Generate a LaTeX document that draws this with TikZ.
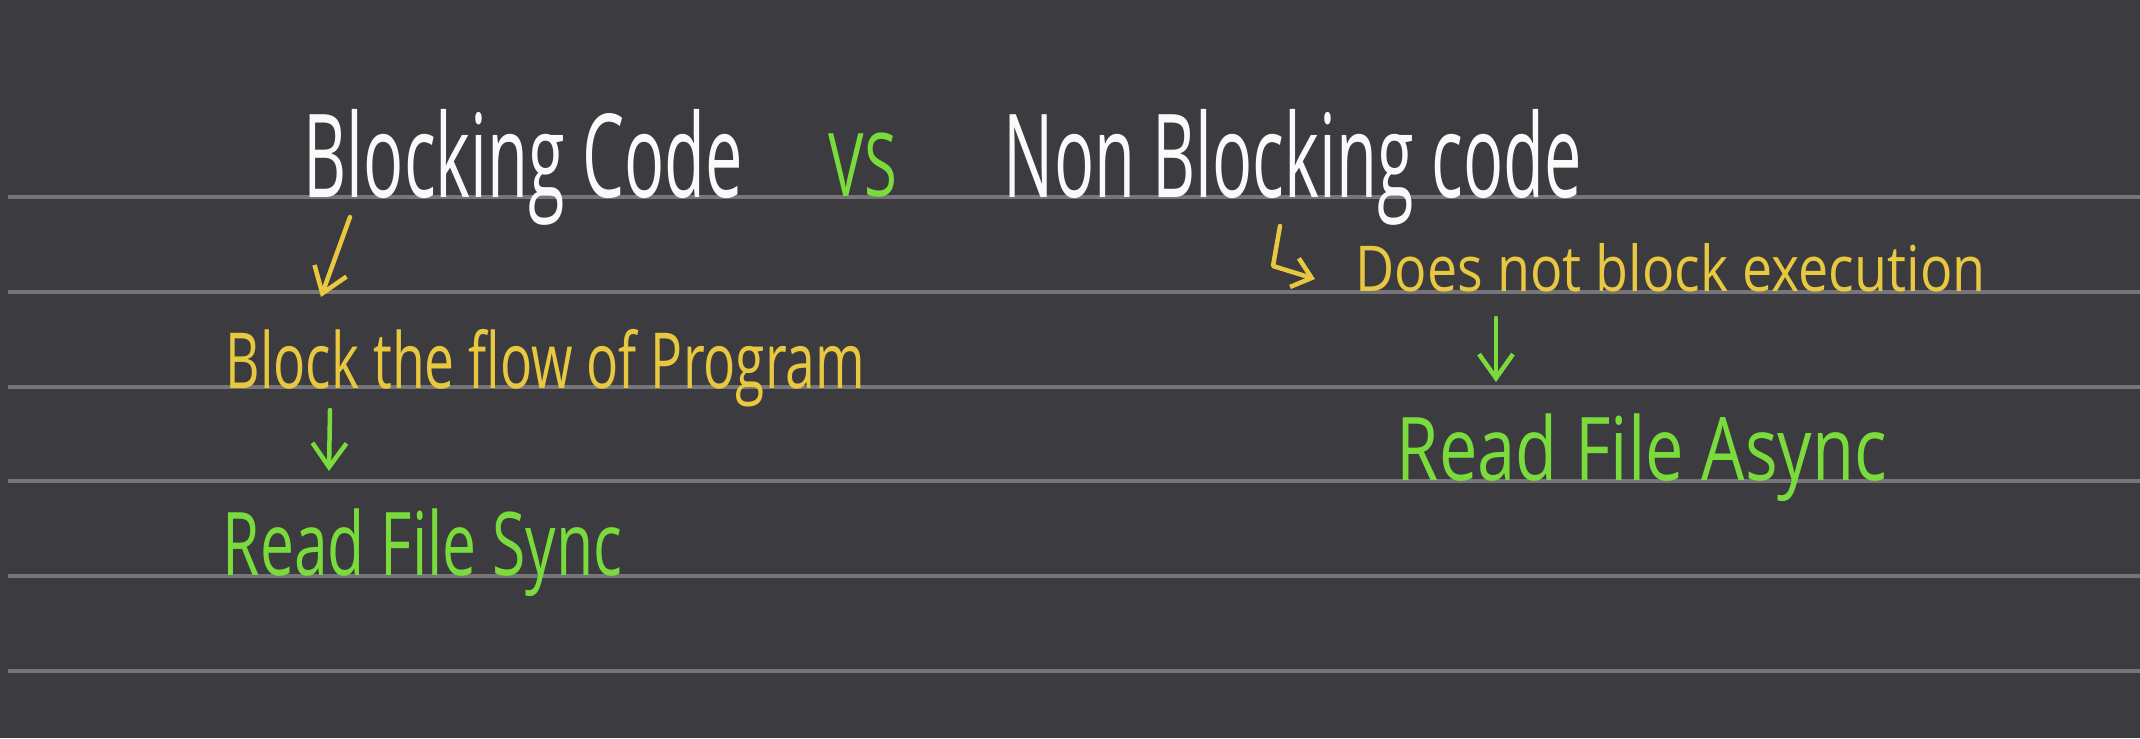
\documentclass[tikz,border=0pt]{standalone}
\usepackage{fontspec}
\usetikzlibrary{arrows.meta,positioning}
\newfontfamily\handfont{Open Sans}
% size and horizontal squeeze of the hand-written lettering
\newcommand\handsize[2]{\handfont\addfontfeature{FakeStretch=#2}\fontsize{#1}{#1}\selectfont}
\definecolor{boardbg}{RGB}{60,59,63}
\definecolor{ruleline}{RGB}{118,117,121}
\definecolor{chalkwhite}{RGB}{250,250,250}
\definecolor{chalkyellow}{RGB}{232,200,64}
\definecolor{chalkgreen}{RGB}{122,220,60}
\tikzset{
  hand/.style={anchor=base west, inner sep=0pt},
  title/.style={hand, text=chalkwhite, font=\handsize{33}{0.575}},
  versus/.style={hand, text=chalkgreen, font=\handsize{25}{0.68}},
  remark/.style={hand, text=chalkyellow, font=\handsize{22}{0.69}},
  smallremark/.style={hand, text=chalkyellow, font=\handsize{18}{0.85}},
  apicall/.style={hand, text=chalkgreen, font=\handsize{25}{0.69}},
  apicallwide/.style={apicall, font=\handsize{25}{0.78}},
  flow/.style={-{Straight Barb[length=2.4mm,width=3.4mm]}, line width=0.45mm,
               line cap=round, line join=round},
  yflow/.style={flow, chalkyellow},
  gflow/.style={flow, chalkgreen},
  hookflow/.style={yflow, -{Straight Barb[length=1.8mm,width=3mm]}},
  rule/.style={ruleline, line width=0.35mm}
}
\begin{document}
\begin{tikzpicture}[x=0.1mm, y=-0.1mm]
% board
\fill[boardbg] (0,0) rectangle (2140,738);
\useasboundingbox (0,0) rectangle (2140,738);
\foreach \ry in {197,292,387,481,576,671}
  \draw[rule] (8,\ry) -- (2140,\ry);

% left column
\node[title]  (blocking) at (303,197) {Blocking Code};
\node[versus] (vs)       at (828,196) {VS};
\node[remark] (blockflow) at (225,388) {Block the flow of Program};
\node[apicall] (readsync) at (222,575) {Read File Sync};

% right column
\node[title]  (nonblocking) at (1003,197) {Non Blocking code};
\node[smallremark] (noblock) at (1355,291) {Does not block execution};
\node[apicallwide] (readasync) at (1396,480) {Read File Async};

% arrows
\coordinate (a1s) at (350,217);
\coordinate (a1e) at (321,297);
\coordinate (a2s) at (330,410);
\coordinate (a2e) at (329,471);
\coordinate (h1s) at (1280,226);
\coordinate (h1m) at (1273,266);
\coordinate (h1e) at (1315,279);
\coordinate (a3s) at (1496,318);
\coordinate (a3e) at (1496,382);
\draw[yflow] (a1s) -- (a1e);
\draw[gflow] (a2s) -- (a2e);
\draw[hookflow] (h1s) -- (h1m) -- (h1e);
\draw[gflow] (a3s) -- (a3e);
\end{tikzpicture}
\end{document}
